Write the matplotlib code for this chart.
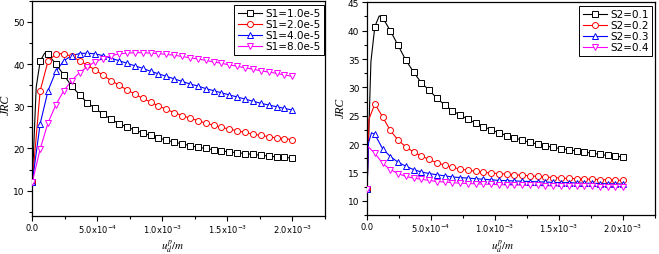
import numpy as np
import matplotlib
matplotlib.use("Agg")
import matplotlib.pyplot as plt
from matplotlib.lines import Line2D
from matplotlib.ticker import MultipleLocator

plt.rcParams['font.family'] = ['DejaVu Sans']

# marker positions (m), 34 evenly spaced samples from 0 to 2.0e-3
x_grid = np.linspace(0, 2.0e-3, 34)

# ---- left panel: S1 varies ----
s1_labels = ['S1=1.0e-5', 'S1=2.0e-5', 'S1=4.0e-5', 'S1=8.0e-5']
s1_a = [12.0, 40.7, 42.3, 40.0, 37.4, 34.8, 32.7, 30.8, 29.5, 28.1, 26.9, 25.9,
        25.1, 24.4, 23.7, 23.1, 22.5, 22.0, 21.5, 21.1, 20.7, 20.3, 20.0, 19.7,
        19.4, 19.2, 19.0, 18.8, 18.6, 18.4, 18.2, 18.0, 17.9, 17.7]
s1_b = [12.0, 33.7, 40.7, 42.4, 42.5, 41.8, 40.8, 39.7, 38.6, 37.3, 36.1, 35.0,
        33.9, 32.9, 31.9, 31.0, 30.1, 29.3, 28.5, 27.8, 27.2, 26.6, 26.0, 25.5,
        25.0, 24.6, 24.2, 23.8, 23.4, 23.1, 22.8, 22.5, 22.3, 22.1]
s1_c = [12.0, 25.9, 33.7, 38.3, 40.8, 42.0, 42.5, 42.6, 42.4, 42.0, 41.4, 40.8,
        40.2, 39.6, 39.0, 38.3, 37.7, 37.1, 36.5, 35.9, 35.3, 34.8, 34.2, 33.7,
        33.2, 32.7, 32.2, 31.7, 31.2, 30.7, 30.3, 29.9, 29.5, 29.1]
s1_d = [12.0, 19.9, 26.1, 30.4, 33.7, 36.1, 38.0, 39.4, 40.6, 41.3, 42.0, 42.4,
        42.6, 42.7, 42.7, 42.6, 42.5, 42.3, 42.1, 41.8, 41.5, 41.2, 40.9, 40.5,
        40.2, 39.8, 39.5, 39.1, 38.8, 38.4, 38.1, 37.8, 37.4, 37.1]
# extra curve points between markers (x, y) read near the steep rise / peaks
s1_extra = [[(3.0e-5, 34.5), (9.5e-5, 42.6)], [], [], []]

# ---- right panel: S2 varies ----
s2_labels = ['S2=0.1', 'S2=0.2', 'S2=0.3', 'S2=0.4']
s2_a = s1_a
s2_b = [12.0, 27.1, 24.8, 22.4, 20.7, 19.5, 18.6, 17.9, 17.3, 16.7, 16.3, 15.9,
        15.6, 15.4, 15.2, 15.0, 14.9, 14.8, 14.7, 14.6, 14.5, 14.4, 14.3, 14.2,
        14.1, 14.0, 13.95, 13.9, 13.85, 13.8, 13.75, 13.7, 13.65, 13.6]
s2_c = [12.0, 21.7, 19.2, 17.8, 16.8, 16.1, 15.5, 15.1, 14.8, 14.6, 14.4, 14.2,
        14.1, 14.0, 13.9, 13.8, 13.7, 13.6, 13.55, 13.5, 13.45, 13.4, 13.35, 13.3,
        13.25, 13.2, 13.2, 13.15, 13.1, 13.1, 13.05, 13.0, 13.0, 12.95]
s2_d = [12.0, 18.4, 16.6, 15.5, 14.8, 14.3, 14.0, 13.8, 13.6, 13.4, 13.3, 13.2,
        13.1, 13.05, 13.0, 12.95, 12.9, 12.85, 12.8, 12.8, 12.75, 12.7, 12.7, 12.65,
        12.65, 12.6, 12.6, 12.6, 12.55, 12.55, 12.5, 12.5, 12.5, 12.5]
s2_extra = [[(3.0e-5, 34.5), (9.5e-5, 42.6)], [(1.5e-5, 24.4)],
            [(1.2e-5, 20.3), (3.5e-5, 22.0)], [(0.5e-5, 19.6)]]

xtick_vals = [0, 5e-4, 1e-3, 1.5e-3, 2e-3]
xtick_labels = ['0.0', r'5.0x10$^{-4}$', r'1.0x10$^{-3}$', r'1.5x10$^{-3}$', r'2.0x10$^{-3}$']

colors = ['black', '#ff0000', '#0000ff', '#ff00ff']
markers = ['s', 'o', '^', 'v']
msizes = [3.8, 4.3, 4.5, 4.5]


def draw_panel(ax, series, extras, labels, ylim, ymajor, yminor, leg_anchor):
    handles = []
    for ys, ext, lab, c, m, ms in zip(series, extras, labels, colors, markers, msizes):
        # line through markers plus extra curve points
        pts = sorted(list(zip(x_grid, ys)) + ext)
        lx, ly = zip(*pts)
        ax.plot(lx, ly, color=c, lw=0.8, zorder=2)
        ax.plot(x_grid, ys, ls='none', marker=m, ms=ms, mfc='white', mec=c,
                mew=0.7, zorder=3)
        handles.append(Line2D([], [], color=c, lw=0.8, marker=m, ms=ms,
                              mfc='white', mec=c, mew=0.7, label=lab))

    ax.set_xlim(0, 2.25e-3)
    ax.set_ylim(*ylim)
    ax.set_xticks(xtick_vals)
    ax.set_xticklabels(xtick_labels, fontsize=6)
    ax.xaxis.set_minor_locator(MultipleLocator(2.5e-4))
    ax.yaxis.set_major_locator(MultipleLocator(ymajor))
    ax.yaxis.set_minor_locator(MultipleLocator(yminor))
    ax.tick_params(axis='y', labelsize=6.5)
    ax.tick_params(which='major', direction='out', length=3.5, width=0.8, pad=2)
    ax.tick_params(axis='x', pad=1.5)
    ax.tick_params(which='minor', direction='out', length=2, width=0.8)
    for sp in ax.spines.values():
        sp.set_linewidth(0.9)

    ax.set_ylabel('JRC', fontfamily='Liberation Serif', style='italic', fontsize=8.5)
    ax.set_xlabel(r'$u_d^p/m$', math_fontfamily='stix', fontsize=8)

    leg = ax.legend(handles=handles, loc='upper right', bbox_to_anchor=leg_anchor,
                    borderaxespad=0, fontsize=7.5, handlelength=2.3,
                    handletextpad=0.3, labelspacing=0.1, borderpad=0.35,
                    fancybox=False, framealpha=1, edgecolor='black')
    leg.get_frame().set_linewidth(0.7)


fig = plt.figure(figsize=(6.59, 2.55), dpi=100)
ax1 = fig.add_axes([0.049, 0.149, 0.444, 0.844])
ax2 = fig.add_axes([0.557, 0.153, 0.437, 0.834])

draw_panel(ax1, [s1_a, s1_b, s1_c, s1_d], s1_extra, s1_labels,
           (4, 55), 10, 5, (0.997, 0.982))
draw_panel(ax2, [s2_a, s2_b, s2_c, s2_d], s2_extra, s2_labels,
           (7.5, 45), 5, 2.5, (0.99, 0.985))

ax1.yaxis.set_label_coords(-0.07, 0.52)
ax2.yaxis.set_label_coords(-0.072, 0.51)
ax1.xaxis.set_label_coords(0.48, -0.14)
ax2.xaxis.set_label_coords(0.47, -0.146)
ax1.xaxis.label.set_va('center')
ax2.xaxis.label.set_va('center')

plt.savefig('out.png', dpi=100)
plt.close()
